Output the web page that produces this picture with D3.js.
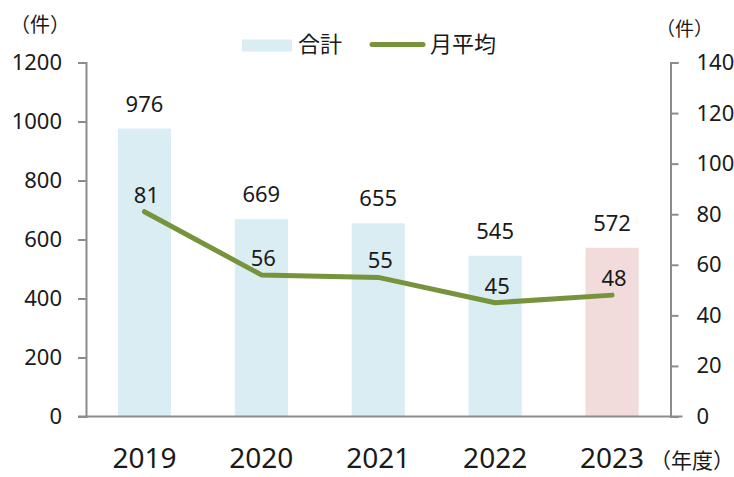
<!DOCTYPE html>
<html>
<head>
<meta charset="utf-8">
<script src="https://cdn.jsdelivr.net/npm/d3@7"></script>
<style>
  html, body { margin: 0; padding: 0; background: #fff; }
  svg text { font-family: "Noto Sans", "Noto Sans CJK JP", sans-serif; fill: #1a1a1a; }
</style>
</head>
<body>
<svg id="chart" width="734" height="477"></svg>
<script>
const categories = ["2019", "2020", "2021", "2022", "2023"];
const totals = [976, 669, 655, 545, 572];
const monthlyAvg = [81, 56, 55, 45, 48];
const leftTicks = [0, 200, 400, 600, 800, 1000, 1200];
const rightTicks = [0, 20, 40, 60, 80, 100, 120, 140];
const barColors = ["#daedf3", "#daedf3", "#daedf3", "#daedf3", "#f2dcdb"];
const legendLabels = ["合計", "月平均"];

const svg = d3.select("#chart");
const plotLeft = 86, plotRight = 670.5, plotTop = 62.5, plotBottom = 416.5;
const axisColor = "#8c8c8c";
const lineColor = "#77933c";

const x = d3.scaleBand().domain(categories).range([plotLeft, plotRight])
  .paddingInner(0.545).paddingOuter(0.2725);
const yL = d3.scaleLinear().domain([0, 1200]).range([plotBottom, plotTop]);
const yR = d3.scaleLinear().domain([0, 140]).range([plotBottom, plotTop]);

// bars
svg.append("g").selectAll("rect").data(totals).join("rect")
  .attr("x", (d, i) => x(categories[i]))
  .attr("y", d => yL(d))
  .attr("width", x.bandwidth())
  .attr("height", d => plotBottom - yL(d))
  .attr("fill", (d, i) => barColors[i]);

// left axis
const gL = svg.append("g").attr("transform", `translate(${plotLeft},0)`)
  .call(d3.axisLeft(yL).tickValues(leftTicks).tickSize(8).tickPadding(16).tickFormat(d3.format("d")));
gL.select(".domain").attr("stroke", axisColor).attr("stroke-width", 2);
gL.selectAll(".tick line").attr("stroke", axisColor).attr("stroke-width", 2);
gL.selectAll(".tick text").style("font-size", "22px").attr("fill", "#1a1a1a");

// right axis
const gR = svg.append("g").attr("transform", `translate(${plotRight},0)`)
  .call(d3.axisRight(yR).tickValues(rightTicks).tickSize(8).tickPadding(18).tickFormat(d3.format("d")));
gR.select(".domain").attr("stroke", axisColor).attr("stroke-width", 2);
gR.selectAll(".tick line").attr("stroke", axisColor).attr("stroke-width", 2);
gR.selectAll(".tick text").style("font-size", "22px").attr("fill", "#1a1a1a");

// baseline
svg.append("line").attr("x1", plotLeft - 8).attr("x2", plotRight + 12)
  .attr("y1", plotBottom).attr("y2", plotBottom)
  .attr("stroke", axisColor).attr("stroke-width", 2);

// x labels
svg.append("g").selectAll("text").data(categories).join("text")
  .attr("x", d => x(d) + x.bandwidth() / 2)
  .attr("y", 468)
  .attr("text-anchor", "middle")
  .style("font-size", "28px")
  .text(d => d);
svg.append("text").attr("x", 650).attr("y", 468).style("font-size", "21px").text("（年度）");

// unit labels
svg.append("text").attr("x", 10).attr("y", 32).style("font-size", "20px").text("（件）");
svg.append("text").attr("x", 656).attr("y", 36).style("font-size", "19px").text("（件）");

// line
const line = d3.line().x((d, i) => x(categories[i]) + x.bandwidth() / 2).y(d => yR(d));
svg.append("path").datum(monthlyAvg)
  .attr("d", line)
  .attr("fill", "none")
  .attr("stroke", lineColor)
  .attr("stroke-width", 5)
  .attr("stroke-linecap", "round")
  .attr("stroke-linejoin", "round");

// bar value labels
svg.append("g").selectAll("text").data(totals).join("text")
  .attr("x", (d, i) => x(categories[i]) + x.bandwidth() / 2)
  .attr("y", d => yL(d) - 17)
  .attr("text-anchor", "middle")
  .style("font-size", "22px")
  .text(d => d);

// line value labels
svg.append("g").selectAll("text").data(monthlyAvg).join("text")
  .attr("x", (d, i) => x(categories[i]) + x.bandwidth() / 2 + 2)
  .attr("y", d => yR(d) - 9)
  .attr("text-anchor", "middle")
  .style("font-size", "22px")
  .text(d => d);

// legend
const lg = svg.append("g");
lg.append("rect").attr("x", 242).attr("y", 39.5).attr("width", 50).attr("height", 12).attr("fill", barColors[0]);
lg.append("text").attr("x", 298).attr("y", 52).style("font-size", "22px").text(legendLabels[0]);
lg.append("line").attr("x1", 372).attr("x2", 423).attr("y1", 44.5).attr("y2", 44.5)
  .attr("stroke", lineColor).attr("stroke-width", 5).attr("stroke-linecap", "round");
lg.append("text").attr("x", 430).attr("y", 52).style("font-size", "22px").text(legendLabels[1]);
</script>
</body>
</html>
